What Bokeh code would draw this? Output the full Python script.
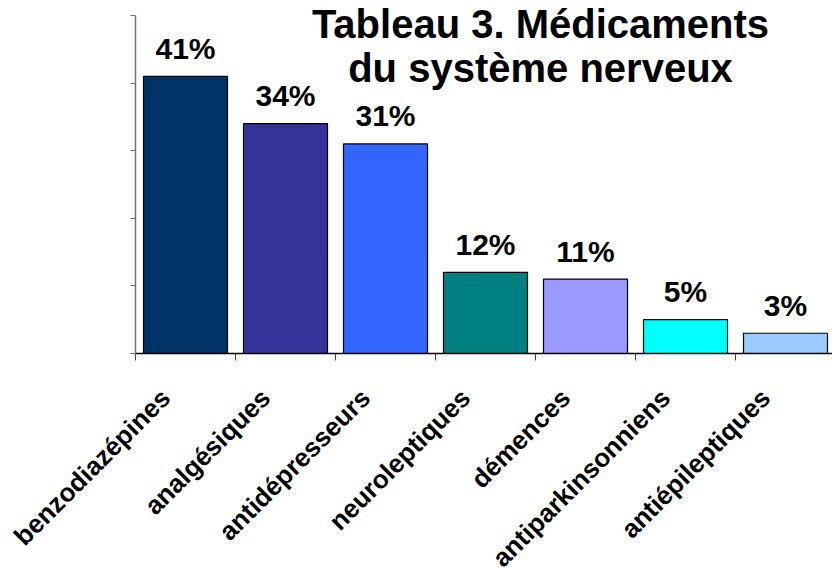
import math
from bokeh.plotting import figure
from bokeh.models import ColumnDataSource, FixedTicker, Label, LinearAxis
from bokeh.core.properties import value
from bokeh.embed import file_html
from bokeh.resources import INLINE

categories = ["benzodiazépines", "analgésiques", "antidépresseurs", "neuroleptiques",
              "démences", "antiparkinsonniens", "antiépileptiques"]
values = [41, 34, 31, 12, 11, 5, 3]
colors = ["#003366", "#333399", "#3366FF", "#008080", "#9999FF", "#00FFFF", "#99CCFF"]
title_lines = ["Tableau 3. Médicaments", "du système nerveux"]
yticks = [0, 10, 20, 30, 40, 50]

FONT = "Liberation Sans"
n = len(categories)
xs = [i + 0.5 for i in range(n)]

# whole canvas is the frame; axes are placed at x=0 / y=0 inside it
p = figure(width=832, height=573, x_range=(-1.35, 6.97), y_range=(-32.54, 52.22),
           output_backend="svg", toolbar_location=None,
           x_axis_location=None, y_axis_location=None, min_border=0)
p.outline_line_color = None
p.grid.visible = False
p.background_fill_color = "white"

src = ColumnDataSource(dict(x=xs, top=values, color=colors,
                            lab=[f"{v}%" for v in values],
                            cat=categories, zero=[0] * n))
p.vbar(x="x", top="top", width=0.84, bottom=0, fill_color="color",
       line_color="black", line_width=1.2, source=src)
p.text(x="x", y="top", text="lab", source=src, y_offset=-28,
       text_align="center", text_baseline="alphabetic",
       text_font=value(FONT), text_font_style="bold", text_font_size="30px",
       text_color="black")

# y axis
yax = LinearAxis(fixed_location=0, bounds=(0, 50), ticker=FixedTicker(ticks=yticks))
yax.major_label_overrides = {t: "" for t in yticks}
yax.major_tick_out = 5
yax.major_tick_in = 0
yax.minor_tick_line_color = None
yax.axis_line_color = "#707070"
yax.major_tick_line_color = "#707070"
yax.axis_line_width = 1.5
p.add_layout(yax, "left")

# x axis: ticks at category boundaries
xax = LinearAxis(fixed_location=0, bounds=(0, n), ticker=FixedTicker(ticks=list(range(n + 1))))
xax.major_label_overrides = {i: "" for i in range(n + 1)}
xax.major_tick_out = 7
xax.major_tick_in = 0
xax.minor_tick_line_color = None
xax.major_tick_line_color = "#404040"
xax.axis_line_color = "black"
xax.axis_line_width = 1.5
p.add_layout(xax, "below")

# rotated category labels
p.text(x="x", y="zero", text="cat", source=src,
       angle=math.pi / 4, x_offset=-20, y_offset=40,
       text_align="right", text_baseline="middle",
       text_font=value(FONT), text_font_style="bold",
       text_font_size="26px", text_color="black")

# title (two lines)
for line, y in zip(title_lines, [48.7, 42.2]):
    p.add_layout(Label(x=4.05, y=y, text=line, text_align="center",
                       text_baseline="alphabetic", text_font=FONT,
                       text_font_style="bold", text_font_size="40px",
                       text_color="black"))

open("out.html", "w").write(file_html(p, INLINE))
